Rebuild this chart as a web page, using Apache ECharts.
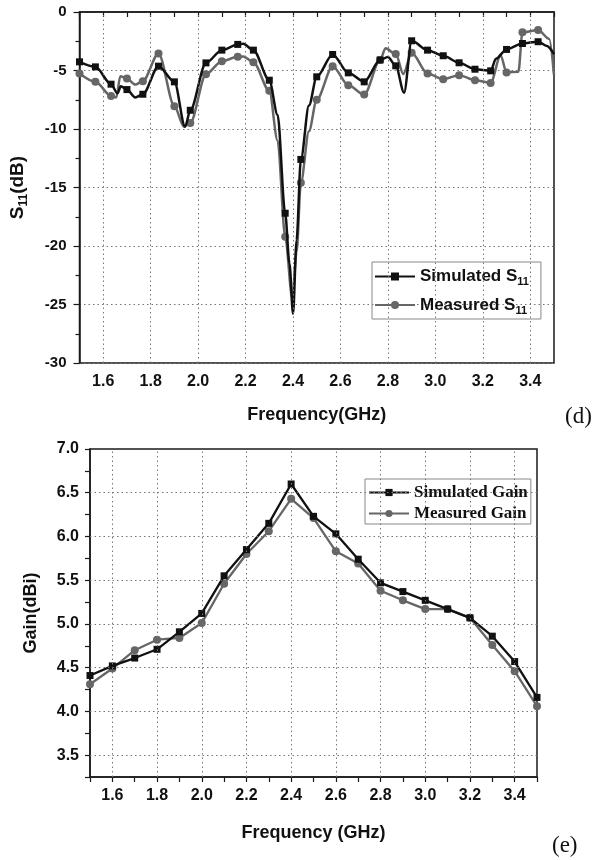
<!DOCTYPE html>
<html><head><meta charset="utf-8">
<script src="https://cdn.jsdelivr.net/npm/echarts@6/dist/echarts.min.js"></script>
<style>html,body{margin:0;padding:0;background:#fff}#c{width:596px;height:860px}</style>
</head><body><div id="c"></div>
<script>
// ---- (d) S11 chart data ----
const s11MarkFreq = [1.500,1.567,1.633,1.700,1.767,1.833,1.900,1.967,2.033,2.100,2.167,2.233,2.300,2.367,2.433,2.500,2.567,2.633,2.700,2.767,2.833,2.900,2.967,3.033,3.100,3.167,3.233,3.300,3.367,3.433];
const simS11Mark = [-4.26,-4.69,-6.17,-6.63,-7.03,-4.63,-5.97,-8.4,-4.35,-3.26,-2.77,-3.26,-5.83,-17.2,-12.6,-5.54,-3.63,-5.2,-5.97,-4.1,-4.6,-2.46,-3.26,-3.74,-4.34,-4.89,-5.03,-3.2,-2.69,-2.54];
const meaS11Mark = [-5.26,-5.97,-7.17,-5.69,-5.91,-3.54,-8.06,-9.49,-5.31,-4.2,-3.83,-4.29,-6.74,-19.2,-14.6,-7.49,-4.63,-6.26,-7.06,-4.11,-3.6,-3.49,-5.26,-5.74,-5.4,-5.83,-6.06,-5.17,-1.74,-1.54];
const simS11ExtraFreq = [1.66,1.674,1.735,1.945,2.19,2.335,2.385,2.40,2.415,2.467,2.80,2.868,3.255,3.47,3.50];
const simS11Extra = [-6.95,-6.35,-7.3,-9.8,-2.72,-8.8,-21.5,-25.8,-19.5,-8.0,-3.85,-6.9,-4.0,-2.9,-3.6];
const meaS11ExtraFreq = [1.655,1.672,1.735,1.94,2.19,2.335,2.397,2.415,2.467,2.79,2.865,3.275,3.35,3.48,3.50];
const meaS11Extra = [-7.3,-5.5,-6.2,-9.8,-3.8,-11.0,-24.5,-20.5,-10.2,-3.1,-5.3,-3.7,-5.1,-2.3,-5.4];
const freqTicks = [1.6,1.8,2.0,2.2,2.4,2.6,2.8,3.0,3.2,3.4];

// ---- (e) Gain chart data ----
const gainFreq = [1.5,1.6,1.7,1.8,1.9,2.0,2.1,2.2,2.3,2.4,2.5,2.6,2.7,2.8,2.9,3.0,3.1,3.2,3.3,3.4,3.5];
const simGain = [4.41,4.52,4.61,4.71,4.91,5.12,5.55,5.85,6.15,6.60,6.23,6.03,5.74,5.47,5.37,5.27,5.17,5.07,4.86,4.57,4.16];
const meaGain = [4.31,4.49,4.70,4.82,4.84,5.01,5.46,5.80,6.06,6.43,6.21,5.83,5.69,5.38,5.27,5.17,5.17,5.07,4.76,4.46,4.06];
const gainTicks = [3.5,4.0,4.5,5.0,5.5,6.0,6.5];

function curve(mf, mv, ef, ev, sym) {
  const pts = [];
  mf.forEach((f, i) => pts.push({value: [f, mv[i]], symbol: sym}));
  ef.forEach((f, i) => pts.push({value: [f, ev[i]], symbol: 'none'}));
  pts.sort((a, b) => a.value[0] - b.value[0]);
  return pts;
}

const gridLine = {type: [1.5, 3], color: '#777', width: 1};
const axisCol = '#1a1a1a';
const labelFont = {fontFamily: 'Liberation Sans', fontWeight: 'bold', color: '#111'};
const evenTenth = v => { const k = Math.round(v * 10); return (k % 2 === 0 && k > 15 && k < 35) ? (k / 10).toFixed(1) : ''; };
const subRich = {sub: {fontSize: 11, fontWeight: 'bold', fontFamily: 'Liberation Sans', color: '#111', padding: [11, 0, 0, 0]}};

const chart = echarts.init(document.getElementById('c'), null, {renderer: 'canvas'});
chart.setOption({
  animation: false,
  backgroundColor: '#fff',
  grid: [
    {left: 77, top: 12, width: 477, height: 351, show: true, borderColor: axisCol, borderWidth: 1.5, backgroundColor: 'transparent'},
    {left: 90, top: 449, width: 447, height: 328, show: true, borderColor: axisCol, borderWidth: 1.5, backgroundColor: 'transparent'}
  ],
  xAxis: [
    {gridIndex: 0, type: 'value', min: 1.5, max: 3.5, interval: 0.1,
     axisLine: {lineStyle: {color: axisCol, width: 1.5}}, axisTick: {length: 5, lineStyle: {color: axisCol, width: 1.2}},
     axisLabel: Object.assign({fontSize: 16, margin: 11, formatter: evenTenth}, labelFont),
     splitLine: {show: false},
     name: 'Frequency(GHz)', nameLocation: 'middle', nameGap: 43,
     nameTextStyle: Object.assign({fontSize: 18}, labelFont)},
    {gridIndex: 1, type: 'value', min: 1.5, max: 3.5, interval: 0.1,
     axisLine: {lineStyle: {color: axisCol, width: 1.5}}, axisTick: {length: 5, lineStyle: {color: axisCol, width: 1.2}},
     axisLabel: Object.assign({fontSize: 16, margin: 11, formatter: evenTenth}, labelFont),
     splitLine: {show: false},
     name: 'Frequency (GHz)', nameLocation: 'middle', nameGap: 47,
     nameTextStyle: Object.assign({fontSize: 18}, labelFont)}
  ],
  yAxis: [
    {gridIndex: 0, type: 'value', min: -30, max: 0, interval: 5,
     axisLine: {show: true, lineStyle: {color: axisCol, width: 1.5}},
     axisTick: {show: true, length: 6, lineStyle: {color: axisCol, width: 1.2}},
     minorTick: {show: true, splitNumber: 2, length: 4, lineStyle: {color: axisCol, width: 1.2}},
     axisLabel: Object.assign({fontSize: 15, margin: 13}, labelFont),
     splitLine: {show: true, lineStyle: gridLine},
     name: 'S{sub|11}(dB)', nameLocation: 'middle', nameRotate: 90, nameGap: 50,
     nameTextStyle: Object.assign({fontSize: 19, rich: {sub: {fontSize: 12, fontWeight: 'bold', fontFamily: 'Liberation Sans', color: '#111', padding: [12, 0, 0, 0]}}}, labelFont)},
    {gridIndex: 1, type: 'value', min: 3.25, max: 7.0, interval: 0.25,
     axisLine: {show: true, lineStyle: {color: axisCol, width: 1.5}},
     axisTick: {show: true, length: 5, lineStyle: {color: axisCol, width: 1.2}},
     axisLabel: Object.assign({fontSize: 16, margin: 11,
       formatter: v => { const k = Math.round(v * 4); return (k % 2 === 0) ? (k / 4).toFixed(1) : ''; }}, labelFont),
     splitLine: {show: false},
     name: 'Gain(dBi)', nameLocation: 'middle', nameRotate: 90, nameGap: 50,
     nameTextStyle: Object.assign({fontSize: 18}, labelFont)}
  ],
  legend: [
    {left: 372, top: 262, orient: 'vertical', selectedMode: false,
     data: ['Simulated S11', 'Measured S11'],
     borderColor: '#888', borderWidth: 1, padding: [6, 12, 3, 2], itemGap: 9,
     itemWidth: 40, itemHeight: 10,
     formatter: n => n.replace('S11', 'S{sub|11}'),
     textStyle: Object.assign({fontSize: 17, rich: subRich}, labelFont)},
    {left: 365, top: 479, orient: 'vertical', selectedMode: false,
     data: ['Simulated Gain', 'Measured Gain'],
     borderColor: '#888', borderWidth: 1, padding: [5, 3, 2, 3], itemGap: 4,
     itemWidth: 40, itemHeight: 9,
     textStyle: {fontFamily: 'Liberation Serif', fontWeight: 'bold', fontSize: 17, color: '#111'}}
  ],
  graphic: [
    {type: 'text', left: 565, top: 405, style: {text: '(d)', font: '23px "Liberation Serif"', fill: '#111'}},
    {type: 'text', left: 552, top: 834, style: {text: '(e)', font: '23px "Liberation Serif"', fill: '#111'}}
  ],
  series: [
    {type: 'line', xAxisIndex: 0, yAxisIndex: 0, data: [], silent: true, z: 1,
     markLine: {silent: true, symbol: ['none', 'none'], label: {show: false}, lineStyle: gridLine,
       data: freqTicks.map(f => ({xAxis: f}))}},
    {type: 'line', xAxisIndex: 1, yAxisIndex: 1, data: [], silent: true, z: 1,
     markLine: {silent: true, symbol: ['none', 'none'], label: {show: false}, lineStyle: gridLine,
       data: freqTicks.map(f => ({xAxis: f})).concat(gainTicks.map(g => ({yAxis: g})))}},
    {name: 'Measured S11', type: 'line', xAxisIndex: 0, yAxisIndex: 0, smooth: 0.3, smoothMonotone: 'x',
     symbol: 'circle', symbolSize: 8, z: 3,
     lineStyle: {color: '#666', width: 2.5}, itemStyle: {color: '#666'},
     data: curve(s11MarkFreq, meaS11Mark, meaS11ExtraFreq, meaS11Extra, 'circle')},
    {name: 'Simulated S11', type: 'line', xAxisIndex: 0, yAxisIndex: 0, smooth: 0.3, smoothMonotone: 'x',
     symbol: 'rect', symbolSize: 7, z: 4,
     lineStyle: {color: '#111', width: 2.5}, itemStyle: {color: '#111'},
     data: curve(s11MarkFreq, simS11Mark, simS11ExtraFreq, simS11Extra, 'rect')},
    {name: 'Measured Gain', type: 'line', xAxisIndex: 1, yAxisIndex: 1,
     symbol: 'circle', symbolSize: 8, z: 3,
     lineStyle: {color: '#666', width: 2.3}, itemStyle: {color: '#666'},
     data: gainFreq.map((f, i) => [f, meaGain[i]])},
    {name: 'Simulated Gain', type: 'line', xAxisIndex: 1, yAxisIndex: 1,
     symbol: 'rect', symbolSize: 7, z: 4,
     lineStyle: {color: '#111', width: 2.3}, itemStyle: {color: '#111'},
     data: gainFreq.map((f, i) => [f, simGain[i]])}
  ]
});
</script>
</body></html>
